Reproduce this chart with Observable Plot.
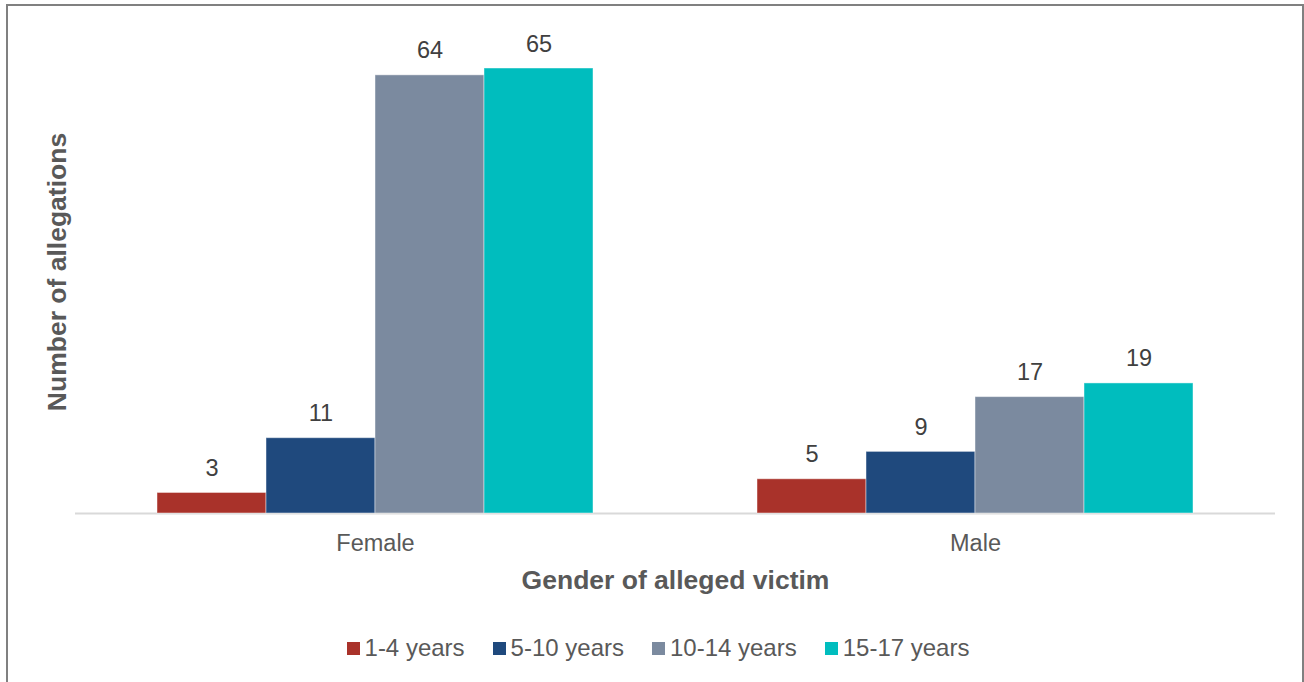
<!DOCTYPE html>
<html>
<head>
<meta charset="utf-8">
<script src="https://cdn.jsdelivr.net/npm/d3@7"></script>
<script src="https://cdn.jsdelivr.net/npm/@observablehq/plot@0.6"></script>
<style>
  body { margin: 0; background: #fff; font-family: "Liberation Sans", Arial, sans-serif; }
  #frame { position: absolute; left: 6px; top: 4px; width: 1294px; height: 700px;
           border: 2px solid #808080; border-bottom: none; }
  #chart { position: absolute; left: 0; top: 0; }
  #legend { position: absolute; left: 6px; top: 634px; width: 1304px; display: flex;
            justify-content: center; align-items: center; font-size: 24px; color: #595959; }
  #legend .item { display: flex; align-items: center; margin: 0 14px; }
  #legend .sw { width: 13px; height: 13px; margin-right: 5px; }
  g[aria-label="fx-axis label"] text { font-size: 26.5px; font-weight: bold; }
</style>
</head>
<body>
<div id="frame"></div>
<div id="chart"></div>
<div id="legend"></div>
<script>
// Allegations by gender and age band of the alleged victim
const genders = ["Female", "Male"];
const ageBands = ["1-4 years", "5-10 years", "10-14 years", "15-17 years"];
const femaleCounts = [3, 11, 64, 65];
const maleCounts = [5, 9, 17, 19];
const bandColors = ["#A9322A", "#1F497D", "#7B8A9F", "#00BDBE"];
const yTitle = "Number of allegations";
const xTitle = "Gender of alleged victim";

const rows = [];
ageBands.forEach((age, i) => {
  rows.push({gender: genders[0], age, count: femaleCounts[i]});
  rows.push({gender: genders[1], age, count: maleCounts[i]});
});

const chart = Plot.plot({
  width: 1304,
  height: 610,
  marginLeft: 75,
  marginRight: 29,
  marginTop: 68,
  marginBottom: 97,
  style: {fontFamily: "'Liberation Sans', Arial, sans-serif", color: "#595959", background: "transparent"},
  fx: {domain: genders, padding: 0, axis: null},
  x: {domain: ageBands, paddingInner: 0, paddingOuter: 0.75, axis: null},
  y: {domain: [0, 65], axis: null},
  color: {domain: ageBands, range: bandColors},
  marks: [
    Plot.ruleY([0], {stroke: "#D9D9D9", strokeWidth: 2}),
    Plot.barY(rows, {fx: "gender", x: "age", y: "count", fill: "age",
      stroke: "#ffffff", strokeOpacity: 0.45, strokeWidth: 1, inset: 0}),
    Plot.text(rows, {fx: "gender", x: "age", y: "count", text: d => String(d.count),
      lineAnchor: "bottom", dy: -17, fontSize: 23.5, fill: "#404040"}),
    Plot.axisFx({anchor: "bottom", tickSize: 0, tickPadding: 21, fontSize: 23.5, fill: "#595959",
      label: xTitle, labelAnchor: "center", labelOffset: 75, labelArrow: "none"}),
    // vertical title, drawn once at the left edge of the first panel
    Plot.text([{gender: genders[0]}], {fx: "gender", frameAnchor: "left", textAnchor: "middle",
      text: () => yTitle, rotate: -90, dx: -18, dy: -19, fontSize: 26.5, fontWeight: "bold", fill: "#595959"})
  ]
});
document.getElementById("chart").appendChild(chart);

// Legend below the chart
const legend = document.getElementById("legend");
ageBands.forEach((age, i) => {
  const item = document.createElement("div");
  item.className = "item";
  const sw = document.createElement("span");
  sw.className = "sw";
  sw.style.background = bandColors[i];
  const label = document.createElement("span");
  label.textContent = age;
  item.appendChild(sw);
  item.appendChild(label);
  legend.appendChild(item);
});
</script>
</body>
</html>
